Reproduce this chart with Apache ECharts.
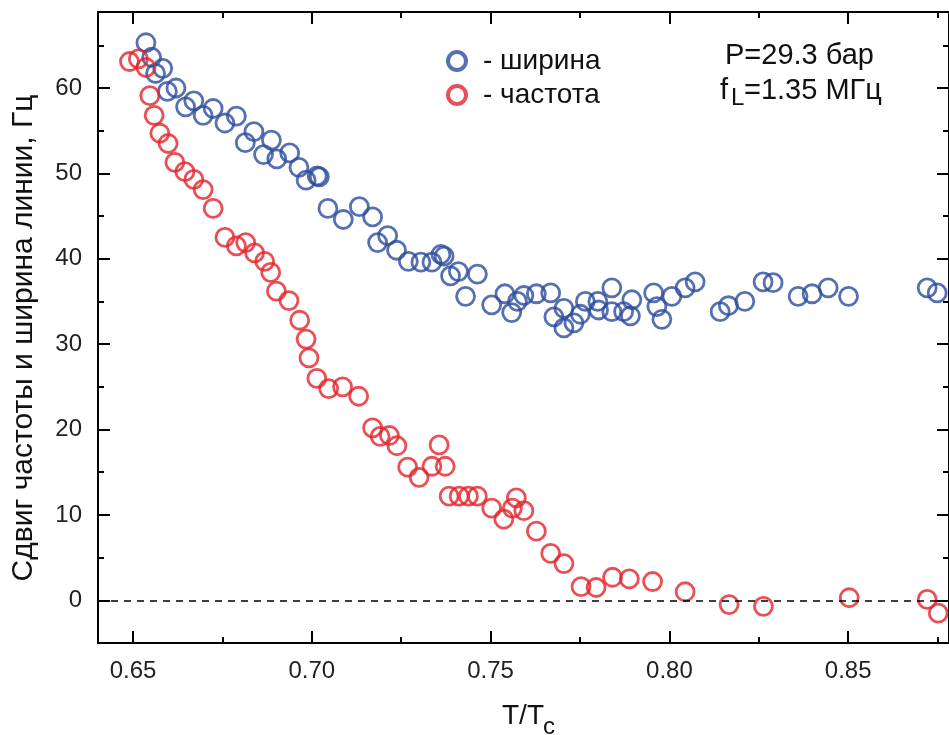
<!DOCTYPE html>
<html>
<head>
<meta charset="utf-8">
<script src="https://cdn.jsdelivr.net/npm/echarts@6/dist/echarts.min.js"></script>
<style>
html,body{margin:0;padding:0;background:#fff;}
#chart{width:949px;height:735px;}
</style>
</head>
<body>
<div id="chart"></div>
<script>
// ---- data ----
const widthName = 'ширина';
const freqName = 'частота';

const widthT = [0.6536,0.6552,0.6583,0.6563,0.6620,0.6596,0.6670,0.6647,0.6724,0.6696,
  0.6789,0.6757,0.6838,0.6887,0.6814,0.6938,0.6865,0.6902,0.6964,0.7015,
  0.7021,0.6984,0.7045,0.7088,0.7133,0.7170,0.7184,0.7212,0.7237,0.7270,
  0.7305,0.7336,0.7361,0.7370,0.7388,0.7410,0.7463,0.7430,0.7503,0.7540,
  0.7559,0.7575,0.7593,0.7628,0.7668,0.7677,0.7705,0.7705,0.7733,0.7751,
  0.7765,0.7800,0.7802,0.7839,0.7839,0.7872,0.7891,0.7895,0.7956,0.7965,
  0.7979,0.8007,0.8044,0.8072,0.8142,0.8165,0.8211,0.8262,0.8290,0.8360,
  0.8399,0.8444,0.8501,0.8721,0.8749];
const widthHz = [65.3,63.6,62.3,61.7,60.0,59.6,58.5,57.8,57.6,56.8,
  56.7,55.9,54.9,53.9,53.6,52.4,52.2,51.7,50.7,49.7,
  49.6,49.2,45.9,44.6,46.1,44.9,41.9,42.7,41.0,39.7,
  39.6,39.6,40.5,40.3,38.0,38.5,38.2,35.6,34.6,35.9,
  33.7,35.0,35.7,35.9,36.0,33.2,34.2,31.9,32.5,33.5,
  35.0,35.0,34.0,36.6,33.8,33.8,33.3,35.2,36.0,34.4,
  32.9,35.6,36.6,37.3,33.8,34.5,35.0,37.3,37.2,35.6,
  35.9,36.6,35.6,36.6,36.0];

const freqT = [0.6490,0.6515,0.6536,0.6547,0.6559,0.6575,0.6598,0.6617,0.6645,0.6670,
  0.6696,0.6724,0.6757,0.6789,0.6815,0.6840,0.6868,0.6885,0.6901,0.6936,
  0.6966,0.6984,0.6992,0.7014,0.7047,0.7086,0.7131,0.7170,0.7191,0.7217,
  0.7238,0.7268,0.7300,0.7336,0.7356,0.7373,0.7384,0.7412,0.7438,0.7463,
  0.7503,0.7537,0.7561,0.7572,0.7593,0.7628,0.7668,0.7705,0.7753,0.7795,
  0.7841,0.7888,0.7953,0.8044,0.8167,0.8263,0.8503,0.8721,0.8752];
const freqHz = [63.1,63.4,62.4,59.1,56.8,54.7,53.5,51.3,50.2,49.3,
  48.1,45.9,42.5,41.5,41.9,40.7,39.7,38.4,36.2,35.1,
  32.8,30.6,28.4,26.0,24.8,25.0,23.9,20.2,19.2,19.3,
  18.1,15.6,14.4,15.7,18.2,15.7,12.2,12.2,12.2,12.2,
  10.8,9.5,10.8,12.0,10.5,8.1,5.5,4.3,1.6,1.5,
  2.7,2.5,2.2,1.0,-0.5,-0.7,0.3,0.1,-1.5];

const xMajorTicks = [0.65, 0.70, 0.75, 0.80, 0.85];
const xMinorTicks = [0.675, 0.725, 0.775, 0.825, 0.875];
const yMajorTicks = [0, 10, 20, 30, 40, 50, 60];
const yMinorTicks = [5, 15, 25, 35, 45, 55, 65];

const xTitle = 'T/T';
const xTitleSub = 'c';
const yTitle = 'Сдвиг частоты и ширина линии, Гц';
const noteP = 'P=29.3 бар';
const noteF = 'f';
const noteFSub = 'L';
const noteFRest = '=1.35 МГц';

// ---- chart ----
const FONT = '"Liberation Sans", Arial, sans-serif';
const BLUE = '#2c4c9e';
const RED = '#e3232a';
const X_MIN = 0.6402, X_MAX = 0.8782, Y_MIN = -5, Y_MAX = 68.9;

function pairs(xs, ys) { return xs.map((x, i) => [x, ys[i]]); }

function xAx(pos, ticks, len, showLine, labels) {
  return {
    type: 'value', min: X_MIN, max: X_MAX, position: pos, gridIndex: 0,
    axisLine: { show: showLine, onZero: false, lineStyle: { color: '#000', width: 2 } },
    axisTick: { show: true, inside: true, length: len, customValues: ticks, lineStyle: { color: '#000', width: 2 } },
    axisLabel: labels ? {
      show: true, customValues: ticks, margin: 16, fontSize: 24, fontFamily: FONT, color: '#222',
      formatter: v => Number(v).toFixed(2)
    } : { show: false },
    splitLine: { show: false }
  };
}
function yAx(pos, ticks, len, showLine, labels) {
  return {
    type: 'value', min: Y_MIN, max: Y_MAX, position: pos, gridIndex: 0,
    axisLine: { show: showLine, onZero: false, lineStyle: { color: '#000', width: 2 } },
    axisTick: { show: true, inside: true, length: len, customValues: ticks, lineStyle: { color: '#000', width: 2 } },
    axisLabel: labels ? {
      show: true, customValues: ticks, margin: 16, fontSize: 24, fontFamily: FONT, color: '#222'
    } : { show: false },
    splitLine: { show: false }
  };
}

const chart = echarts.init(document.getElementById('chart'), null, { renderer: 'canvas' });
chart.setOption({
  animation: false,
  backgroundColor: '#fff',
  grid: { left: 98, right: -2, top: 12, bottom: 92, containLabel: false },
  xAxis: [
    xAx('bottom', xMajorTicks, 12, true, true),
    xAx('bottom', xMinorTicks, 6, false, false),
    xAx('top', xMajorTicks, 12, true, false),
    xAx('top', xMinorTicks, 6, false, false)
  ],
  yAxis: [
    yAx('left', yMajorTicks, 12, true, true),
    yAx('left', yMinorTicks, 6, false, false),
    yAx('right', yMajorTicks, 12, true, false),
    yAx('right', yMinorTicks, 6, false, false)
  ],
  legend: {
    orient: 'vertical', left: 441, top: 42, padding: 5, itemWidth: 18, itemHeight: 18, itemGap: 6,
    textStyle: { fontSize: 28, fontFamily: FONT, color: '#111', padding: [0, 0, 0, 12] },
    formatter: n => '- ' + n,
    data: [
      { name: widthName, itemStyle: { borderWidth: 4 } },
      { name: freqName, itemStyle: { borderWidth: 4 } }
    ]
  },
  series: [
    {
      name: widthName, type: 'scatter', xAxisIndex: 0, yAxisIndex: 0,
      symbol: 'circle', symbolSize: 18,
      itemStyle: { color: 'rgba(255,255,255,0)', borderColor: BLUE, borderWidth: 2.8 },
      data: pairs(widthT, widthHz), z: 3
    },
    {
      name: freqName, type: 'scatter', xAxisIndex: 0, yAxisIndex: 0,
      symbol: 'circle', symbolSize: 18,
      itemStyle: { color: 'rgba(255,255,255,0)', borderColor: RED, borderWidth: 2.8 },
      data: pairs(freqT, freqHz), z: 4,
      markLine: {
        silent: true, symbol: 'none', label: { show: false },
        lineStyle: { color: '#000', width: 1.5, type: [7, 6] },
        data: [{ yAxis: 0 }]
      }
    }
  ],
  graphic: [
    { type: 'text', rotation: Math.PI / 2, x: 24, y: 338,
      style: { text: yTitle, fontSize: 30, fontFamily: FONT, fill: '#111', align: 'center', verticalAlign: 'middle' } },
    { type: 'text', x: 502, y: 716,
      style: { text: xTitle, fontSize: 28, fontFamily: FONT, fill: '#111', align: 'left', verticalAlign: 'middle' } },
    { type: 'text', x: 543, y: 727,
      style: { text: xTitleSub, fontSize: 24, fontFamily: FONT, fill: '#111', align: 'left', verticalAlign: 'middle' } },
    { type: 'text', x: 725, y: 56,
      style: { text: noteP, fontSize: 29, fontFamily: FONT, fill: '#111', align: 'left', verticalAlign: 'middle' } },
    { type: 'text', x: 720, y: 91,
      style: { text: noteF, fontSize: 29, fontFamily: FONT, fill: '#111', align: 'left', verticalAlign: 'middle' } },
    { type: 'text', x: 731, y: 98,
      style: { text: noteFSub, fontSize: 24, fontFamily: FONT, fill: '#111', align: 'left', verticalAlign: 'middle' } },
    { type: 'text', x: 744, y: 91,
      style: { text: noteFRest, fontSize: 29, fontFamily: FONT, fill: '#111', align: 'left', verticalAlign: 'middle' } }
  ]
});
</script>
</body>
</html>
